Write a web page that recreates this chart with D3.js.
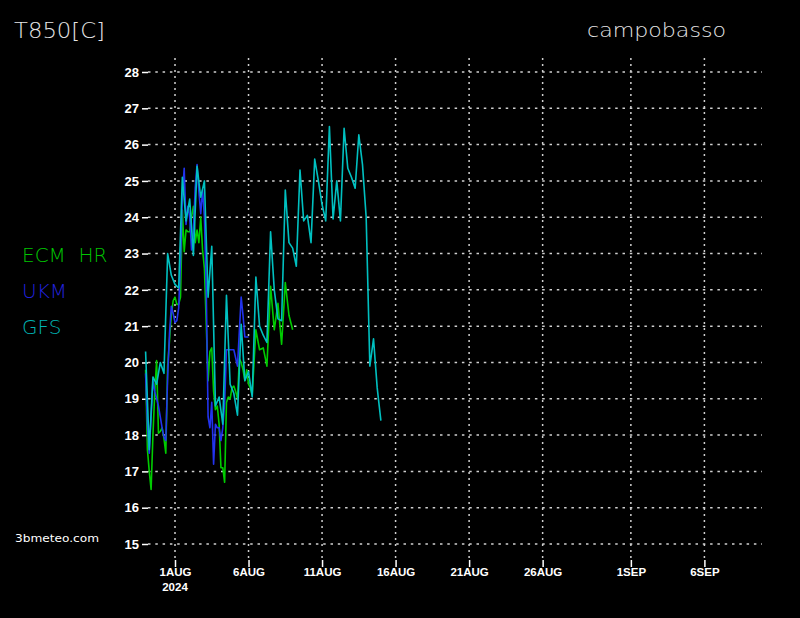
<!DOCTYPE html>
<html><head><meta charset="utf-8">
<script src="https://cdn.jsdelivr.net/npm/d3@7"></script>
<style>html,body{margin:0;padding:0;background:#000;} svg{display:block}</style>
</head><body><svg id="c" width="800" height="618"></svg>
<script>
// ---- data ----
const yTicks = [15,16,17,18,19,20,21,22,23,24,25,26,27,28];
const xTickDates = ["2024-08-01","2024-08-06","2024-08-11","2024-08-16","2024-08-21","2024-08-26","2024-09-01","2024-09-06"];
const xTickLabels = ["1AUG","6AUG","11AUG","16AUG","21AUG","26AUG","1SEP","6SEP"];
const yearLabel = "2024";
const runStart = "2024-07-30T00:00Z";
const seriesNames = ["ECM  HR","UKM","GFS"];
const seriesColors = ["#00cc00","#2233ee","#00c0c0"];
const legendColors = ["#00c400","#2222dd","#00b4b4"];

// hours after runStart and T850 values
const ecmHours = [0,3,6,9,12,15,18,21,24,27,30,33,36,39,42,45,48,51,54,57,60,63,66,69,72,75,78,81,84,87,90,93,96,102,105,108,111,114,117,120,123,126,129,132,135,138,141,144,147,150,153,156,159,162,165,168,171,174,180,186,192,198,204,210,216,222,228,234,240];
const ecmValues = [19.8,17.6,17.0,16.5,18.0,19.2,20.05,18.05,18.1,18.2,17.9,17.5,19.9,20.6,21.3,21.7,21.8,21.6,21.6,21.8,24.2,23.05,23.65,23.6,23.6,24.0,24.3,23.3,23.65,23.3,24.0,23.1,22.6,19.5,20.3,20.4,19.2,18.7,18.8,18.3,17.1,17.1,16.7,18.9,19.05,19.0,19.3,19.35,19.2,19.0,20.1,20.0,19.8,19.5,19.8,19.4,19.3,19.1,20.9,20.35,20.4,19.9,22.1,20.9,21.63,20.5,22.2,21.3,20.9];

const ukmHours = [0,3,6,9,12,15,18,21,24,27,30,33,36,39,42,45,48,51,54,57,60,63,66,69,72,75,78,81,84,87,90,93,96,99,102,105,108,111,114,117,120,123,126,129,132,138,144,150,156,159,162,168];
const ukmValues = [19.7,18.3,17.5,18.5,19.5,19.2,19.0,18.8,18.5,18.2,17.95,17.85,19.6,20.8,21.55,21.35,21.1,21.15,21.5,22.8,24.6,25.35,23.8,24.3,24.0,23.1,23.6,24.8,25.45,24.7,24.1,24.75,24.0,22.0,18.5,18.2,18.9,17.2,18.3,18.2,18.2,17.85,18.2,18.9,20.35,20.35,20.35,19.9,21.8,21.3,20.7,20.7];

const gfsHours = d3.range(0, 385, 6);
const gfsValues = [20.3,17.6,19.6,19.4,20.0,19.7,23.0,22.4,22.15,22.05,25.1,23.9,24.5,22.95,25.4,24.55,25.0,21.8,23.2,18.8,19.05,18.3,21.85,19.4,19.15,18.55,21.05,19.5,19.75,19.05,22.35,21.0,20.75,20.55,23.6,22.0,21.2,21.15,24.75,23.3,23.15,22.65,25.3,23.9,24.05,23.3,25.6,25.0,24.35,23.9,26.5,23.95,25.0,23.9,26.45,25.35,25.1,24.8,26.27,25.45,24.0,19.9,20.65,19.3,18.4];

// ---- chart ----
const svg = d3.select("#c");
svg.append("rect").attr("width",800).attr("height",618).attr("fill","#000");

const t0 = new Date(runStart);
const toDate = h => new Date(t0.getTime() + h*3600e3);
const x = d3.scaleUtc()
  .domain([new Date("2024-08-01T00:00Z"), new Date("2024-09-06T00:00Z")])
  .range([175, 704.4]);
const y = d3.scaleLinear().domain([15, 28]).range([544, 72]);

const gridLeft = 148, gridRight = 762, gridTop = 58, gridBottom = 560;
const gridColor = "#cfcfcf";
const narrow = "'Liberation Sans Narrow','Arial Narrow','Liberation Sans',sans-serif";

// horizontal grid
svg.append("g").selectAll("line").data(yTicks).join("line")
  .attr("x1", gridLeft).attr("x2", gridRight)
  .attr("y1", d => y(d)).attr("y2", d => y(d))
  .attr("stroke", gridColor).attr("stroke-width", 1.5)
  .attr("stroke-dasharray", "2.5,4.8");

// vertical grid
const xTicks = xTickDates.map(s => new Date(s + "T00:00Z"));
svg.append("g").selectAll("line").data(xTicks).join("line")
  .attr("x1", d => x(d)).attr("x2", d => x(d))
  .attr("y1", gridTop).attr("y2", gridBottom)
  .attr("stroke", gridColor).attr("stroke-width", 1.5)
  .attr("stroke-dasharray", "2,4");

// y axis
const yAxis = d3.axisLeft(y).tickValues(yTicks).tickSize(6).tickPadding(3).tickFormat(d3.format("d"));
const gy = svg.append("g").attr("transform", `translate(${gridLeft},0)`).call(yAxis);
gy.select(".domain").remove();
gy.selectAll(".tick line").attr("stroke", "#fff").attr("stroke-width", 1.5);
gy.selectAll(".tick text").attr("fill", "#fff")
  .style("font-family", narrow).style("font-weight", "bold").style("font-size", "13px");

// x axis
const xAxis = d3.axisBottom(x).tickValues(xTicks).tickSize(7).tickPadding(1)
  .tickFormat((d,i) => xTickLabels[i]);
const gx = svg.append("g").attr("transform", `translate(0,${gridBottom})`).call(xAxis);
gx.select(".domain").remove();
gx.selectAll(".tick line").attr("stroke", "#fff").attr("stroke-width", 1.5);
gx.selectAll(".tick text").attr("fill", "#fff")
  .style("font-family", narrow).style("font-weight", "bold").style("font-size", "11.5px");
svg.append("text").attr("x", x(xTicks[0])).attr("y", 591)
  .attr("text-anchor", "middle").attr("fill", "#fff")
  .style("font-family", narrow).style("font-weight", "bold").style("font-size", "11.5px")
  .text(yearLabel);

// lines
const line = d3.line().x(d => x(toDate(d[0]))).y(d => y(d[1]));
const series = [
  ecmHours.map((h,i) => [h, ecmValues[i]]),
  ukmHours.map((h,i) => [h, ukmValues[i]]),
  gfsHours.map((h,i) => [h, gfsValues[i]])
];
svg.append("g").selectAll("path").data(series).join("path")
  .attr("d", line).attr("fill", "none")
  .attr("stroke", (d,i) => seriesColors[i]).attr("stroke-width", 1.6)
  .attr("stroke-linejoin", "round");

// titles
const thin = "'DejaVu Sans','Lato',sans-serif";
svg.append("text").attr("x", 14).attr("y", 38).attr("fill", "#e6e6e6")
  .style("font-family", thin).style("font-weight", 200).style("font-size", "21px")
  .attr("textLength", 91).attr("lengthAdjust", "spacingAndGlyphs").text("T850[C]");
svg.append("text").attr("x", 587).attr("y", 37).attr("fill", "#e6e6e6")
  .style("font-family", thin).style("font-weight", 200).style("font-size", "20px")
  .attr("textLength", 139).attr("lengthAdjust", "spacingAndGlyphs").text("campobasso");

// legend
const legendY = [262, 298, 334];
svg.append("g").selectAll("text").data(seriesNames).join("text")
  .attr("x", 22).attr("y", (d,i) => legendY[i])
  .attr("fill", (d,i) => legendColors[i])
  .style("font-family", thin).style("font-weight", 200).style("font-size", "20px")
  .style("white-space", "pre").attr("xml:space", "preserve")
  .text(d => d);

// credit
svg.append("text").attr("x", 15).attr("y", 542).attr("fill", "#fff")
  .style("font-family", "'DejaVu Sans',sans-serif").style("font-size", "11px")
  .attr("textLength", 84).attr("lengthAdjust", "spacingAndGlyphs").text("3bmeteo.com");
</script></body></html>
